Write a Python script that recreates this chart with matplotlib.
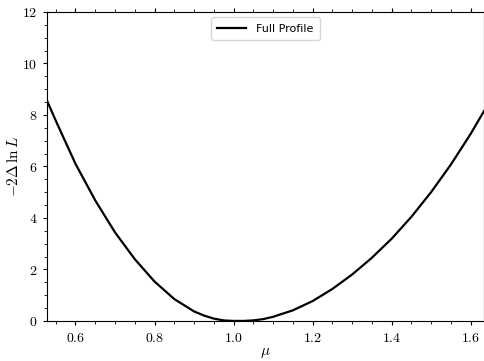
import matplotlib
matplotlib.use("Agg")
import matplotlib.pyplot as plt
from matplotlib.ticker import MultipleLocator, FuncFormatter

# Profile likelihood scan
mu = [0.528, 0.55, 0.60, 0.65, 0.70, 0.75, 0.80, 0.85, 0.90, 0.925, 0.95,
      0.975, 1.00, 1.025, 1.05, 1.075, 1.10, 1.15, 1.20, 1.25, 1.30, 1.35,
      1.40, 1.45, 1.50, 1.55, 1.60, 1.634]
nll = [8.55, 7.78, 6.10, 4.68, 3.44, 2.40, 1.53, 0.85, 0.37, 0.21, 0.09,
       0.02, 0.0, 0.0, 0.02, 0.07, 0.16, 0.41, 0.77, 1.24, 1.80, 2.45,
       3.19, 4.04, 5.00, 6.07, 7.26, 8.15]

plt.rcParams["mathtext.fontset"] = "cm"

fig = plt.figure(figsize=(4.85, 3.61), dpi=100)
ax = fig.add_axes([0.097, 0.111, 0.901, 0.856])
ax.plot(mu, nll, color="black", lw=1.6, label="Full Profile")

ax.set_xlim(0.528, 1.634)
ax.set_ylim(0, 12)
ax.xaxis.set_major_locator(MultipleLocator(0.2))
ax.xaxis.set_minor_locator(MultipleLocator(0.05))
ax.yaxis.set_major_locator(MultipleLocator(2))
ax.yaxis.set_minor_locator(MultipleLocator(0.5))
ax.xaxis.set_major_formatter(FuncFormatter(lambda v, p: f"${v:.1f}$"))
ax.yaxis.set_major_formatter(FuncFormatter(lambda v, p: f"${v:.0f}$"))
ax.tick_params(which="both", direction="out", top=True, right=False,
               labelsize=10, pad=4)
ax.tick_params(which="major", length=3, width=0.8)
ax.tick_params(which="minor", length=2, width=0.6)

ax.set_xlabel(r"$\mu$", fontsize=11, labelpad=0)
ax.set_ylabel(r"$-2\Delta\,\ln L$", fontsize=11, labelpad=1)
ax.legend(loc="upper center", fontsize=8, handlelength=2.6,
          handletextpad=0.9, borderpad=0.55, framealpha=0.8)

fig.savefig("out.png", dpi=100)
